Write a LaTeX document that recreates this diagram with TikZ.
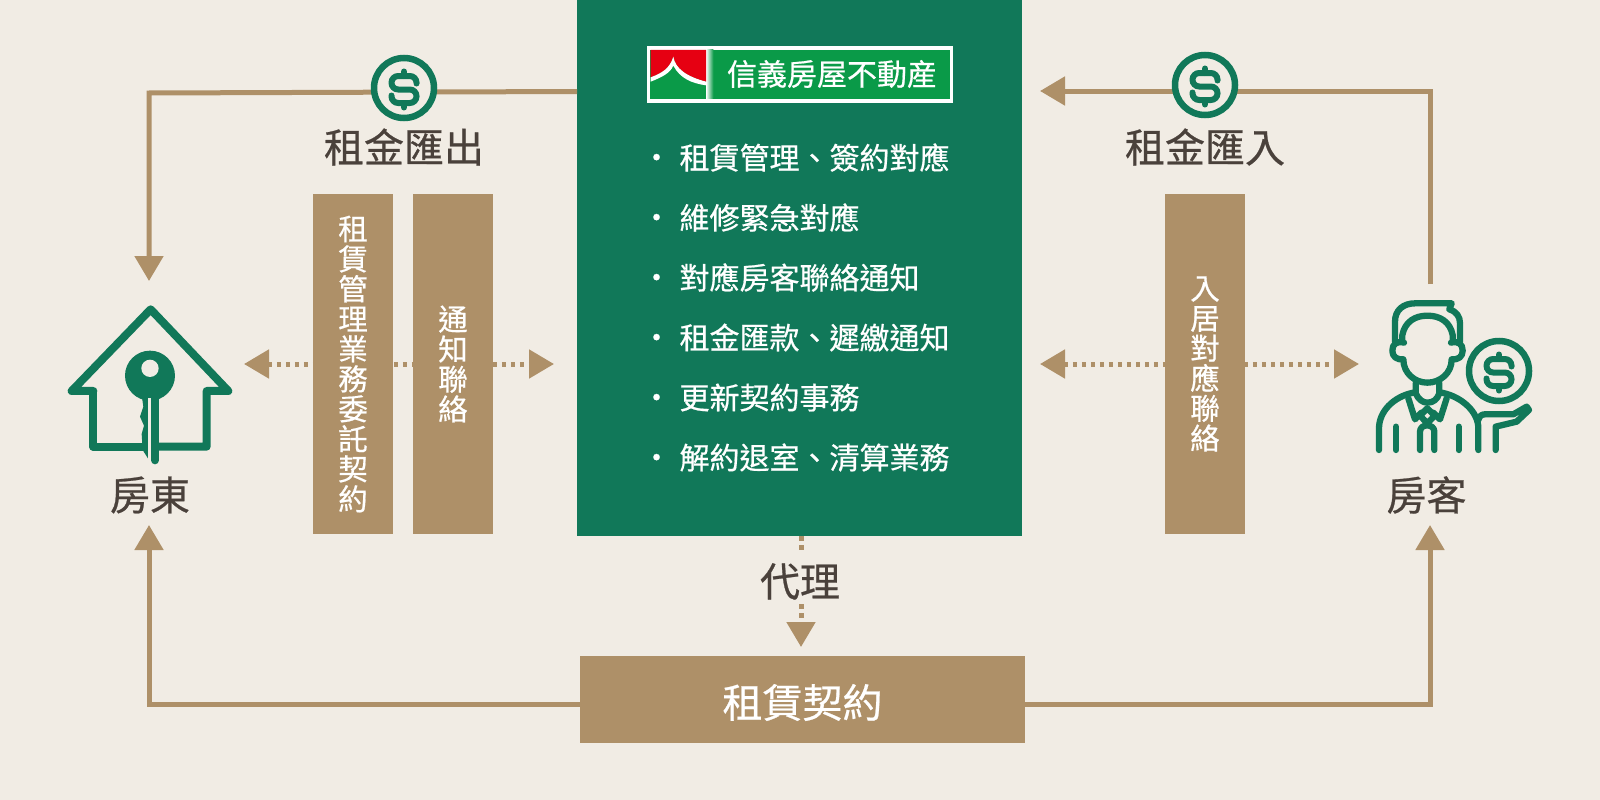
\documentclass[tikz,border=0pt]{standalone}
\usepackage{fontspec}
\setmainfont[FakeBold=0.6]{Noto Sans CJK TC}
\usetikzlibrary{matrix, arrows.meta}
\definecolor{pagebg}{HTML}{F1ECE4}
\definecolor{agentgreen}{HTML}{117859}
\definecolor{bartan}{HTML}{AE9068}
\definecolor{labelgray}{HTML}{4A413B}
\definecolor{logogreen}{HTML}{0A9A48}
\definecolor{logored}{HTML}{E60012}
\newcommand{\taskdot}{\raisebox{-11pt}[0pt][0pt]{・}}
\tikzset{
    solidarrow/.style={draw=bartan, line width=5pt, line join=miter, -{Triangle[length=25pt, width=28pt]}},
    dotline/.style={draw=bartan, line width=5pt, dash pattern=on 4.5pt off 4.5pt},
    barbox/.style={fill=bartan, text=white, minimum width=80pt, minimum height=340pt, align=center, inner sep=0pt, font={\fontsize{29.5}{30}\selectfont}},
    biglabel/.style={text=labelgray, inner sep=0pt, font={\fontsize{40}{42}\selectfont}},
    coin/.style={circle, draw=agentgreen, fill=pagebg, line width=6.5pt, minimum size=60pt, inner sep=0pt},
    icon/.style={draw=agentgreen, line width=6.3pt, line cap=round, line join=round},
    dollar/.pic={
        \draw[agentgreen, line width=6pt, line cap=round, rounded corners=6.7pt]
            (12.5,-6) -- (12.5,-13.5) -- (-12.5,-13.5) -- (-12.5,0) -- (12.5,0) -- (12.5,13.5) -- (-12.5,13.5) -- (-12.5,6);
        \draw[agentgreen, line width=6pt, line cap=round] (0,-13.5) -- (0,-18) (0,13.5) -- (0,18);
    }
}
\begin{document}
\begin{tikzpicture}[x=1pt, y=-1pt]
    \useasboundingbox (0,0) rectangle (1600,800);
    \fill[pagebg] (0,0) rectangle (1600,800);

    \node[fill=agentgreen, minimum width=445pt, minimum height=536pt, inner sep=0pt] (agent) at (799.5,268) {};
    \node[fill=bartan, minimum width=445pt, minimum height=87pt, inner sep=0pt] (lease) at (802.5,699.5) {};
    \node[text=white, inner sep=0pt, font={\fontsize{40}{42}\selectfont}] (leasetext) at (802.5,702.5) {租賃契約};

    % free ends of the connectors
    \coordinate (landlordtop) at (149,281);
    \coordinate (landlordbottom) at (149,525);
    \coordinate (tenanttop) at (1430,284);
    \coordinate (tenantbottom) at (1430,525);
    \coordinate (rentouttop) at (149,93);
    \coordinate (rentoutstart) at (577,91.5);
    \coordinate (rentinstart) at (1430,91);
    \coordinate (rentintip) at (1040,91);
    \coordinate (leftdotstart) at (244,364);
    \coordinate (leftdotend) at (554,364);
    \coordinate (rightdotstart) at (1040,364);
    \coordinate (rightdotend) at (1359,364);
    \coordinate (agencytip) at (801,647);
    \coordinate (agencyabove) at (801,552);
    \coordinate (agencybelow) at (801,604);
    \coordinate (leaselevel) at (802.5,704);

    \draw[solidarrow] (rentoutstart) -- (rentouttop) -- (landlordtop);
    \draw[solidarrow] (tenanttop) -- (rentinstart) -- (rentintip);
    \draw[dotline, {Triangle[length=25pt, width=28pt]}-{Triangle[length=25pt, width=28pt]}] (leftdotstart) -- (leftdotend);
    \draw[dotline, {Triangle[length=25pt, width=28pt]}-{Triangle[length=25pt, width=28pt]}] (rightdotstart) -- (rightdotend);
    \draw[solidarrow] (lease.west |- leaselevel) -| (landlordbottom);
    \draw[solidarrow] (lease.east |- leaselevel) -| (tenantbottom);

    \node[coin] (coinout) at (404,88) {};
    \pic at (404,89.5) {dollar};
    \node[coin] (coinin) at (1205,85) {};
    \pic at (1205,86.5) {dollar};
    \node[biglabel] (rentout) at (404,147) {租金匯出};
    \node[biglabel] (rentin) at (1205,147) {租金匯入};

    \node[barbox] (contract) at (353,364) {租\\賃\\管\\理\\業\\務\\委\\託\\契\\約};
    \node[barbox] (notice) at (453,364) {通\\知\\聯\\絡};
    \node[barbox] (movein) at (1205,364) {入\\居\\對\\應\\聯\\絡};

    \node[biglabel] (agency) at (800,581.5) {代理};
    \draw[dotline] (agent.south -| agencytip) -- (agencyabove);
    \draw[dotline, -{Triangle[length=25pt, width=28pt]}] (agencybelow) -- (agencytip);

    % logo
    \node[draw=white, line width=3.5pt, fill=logogreen, minimum width=303pt, minimum height=53pt, inner sep=0pt] (logo) at (800,74.5) {};
    \node[text=white, inner sep=0pt, font={\fontsize{30}{32}\selectfont}] (logotext) at (832,74) {信義房屋不動産};
    \begin{scope}[shift={(620,30)}, x=0.3333pt, y=-0.3333pt]
        \shade[left color=white, right color=logogreen] (258,60) rectangle (280,207);
        \fill[logogreen] (92,60) rectangle (258,207);
        \fill[logored] (92,60) -- (258,60) -- (258,155) .. controls (200,140) and (165,115) .. (160,80) .. controls (150,115) and (125,130) .. (92,142) -- cycle;
        \fill[white] (160,80) .. controls (150,115) and (125,130) .. (92,142) -- (92,155) .. controls (125,142) and (150,130) .. (160,107) .. controls (180,145) and (215,160) .. (258,166) -- (258,155) .. controls (200,140) and (165,115) .. (160,80) -- cycle;
    \end{scope}

    % task list
    \matrix(tasks)[matrix of nodes, anchor=north west, column sep=8pt, text=white,
        nodes={inner sep=0pt, anchor=west, minimum height=60pt, font={\fontsize{30}{32}\selectfont}},
        column 1/.style={nodes={text width=30pt, align=center}}] at (638,124)
    {
        \taskdot & 租賃管理、簽約對應\\
        \taskdot & 維修緊急對應\\
        \taskdot & 對應房客聯絡通知\\
        \taskdot & 租金匯款、遲繳通知\\
        \taskdot & 更新契約事務\\
        \taskdot & 解約退室、清算業務\\
    };

    % landlord
    \node[biglabel] (landlord) at (150,495) {房東};
    \begin{scope}[shift={(50,280)}, x=0.3333pt, y=-0.3333pt]
        \draw[icon, line width=8pt] (130,333) -- (65,333) -- (302,88) -- (535,333) -- (470,333) -- (470,500) -- (320,500);
        \draw[icon, line width=8pt, line cap=butt] (290,500) -- (130,500) -- (130,333);
        \fill[agentgreen] (300,287) circle (75);
        \fill[pagebg] (300,265) circle (26);
        \fill[agentgreen] (275,345) -- (295,345) -- (295,537) -- (278,510) -- (275,462) -- (282,437) -- (270,410) -- (280,380) -- cycle;
        \draw[agentgreen, line width=8pt, line cap=round] (315,345) -- (315,541);
        \fill[pagebg] (295,355) rectangle (303,537);
    \end{scope}

    % tenant
    \node[biglabel] (tenant) at (1426.5,495) {房客};
    \begin{scope}[shift={(1350,280)}, x=0.3333pt, y=-0.3333pt]
        \draw[icon] (135,185) -- (135,125) .. controls (135,90) and (160,70) .. (195,70) -- (305,70) -- (298,88) .. controls (320,95) and (330,110) .. (330,130) -- (330,185);
        \draw[icon] (157,178) -- (157,165) .. controls (165,125) and (195,107) .. (232,107) .. controls (270,107) and (300,125) .. (308,165) -- (308,178);
        \draw[icon] (162,188) .. controls (140,182) and (127,192) .. (127,212) .. controls (127,230) and (140,240) .. (160,238) .. controls (160,280) and (195,308) .. (232,308) .. controls (270,308) and (305,280) .. (305,238) .. controls (325,240) and (338,230) .. (338,212) .. controls (338,192) and (325,182) .. (303,188);
        \draw[icon] (197,310) -- (197,340) .. controls (205,358) and (218,368) .. (232,368) .. controls (250,368) and (262,358) .. (268,340) -- (268,310);
        \draw[icon] (87,510) -- (87,445) .. controls (87,395) and (130,350) .. (190,338);
        \draw[icon] (385,510) -- (385,445) .. controls (385,395) and (335,350) .. (275,338);
        \draw[icon] (175,355) -- (195,418) -- (214,398);
        \draw[icon] (290,355) -- (270,418) -- (250,398);
        \draw[icon] (232,385) -- (254,407) -- (232,430) -- (210,407) -- cycle;
        \draw[icon] (210,510) -- (210,455) .. controls (210,430) and (253,430) .. (253,455) -- (253,510);
        \draw[icon] (138,440) -- (138,510);
        \draw[icon] (326,440) -- (326,510);
        \draw[icon] (385,420) .. controls (388,408) and (395,403) .. (405,403) -- (490,403) -- (530,380) -- (537,390) -- (500,425) -- (437,440) -- (437,510);
    \end{scope}
    \node[coin] (coinhand) at (1499,371) {};
    \pic at (1499,372.5) {dollar};
\end{tikzpicture}
\end{document}
